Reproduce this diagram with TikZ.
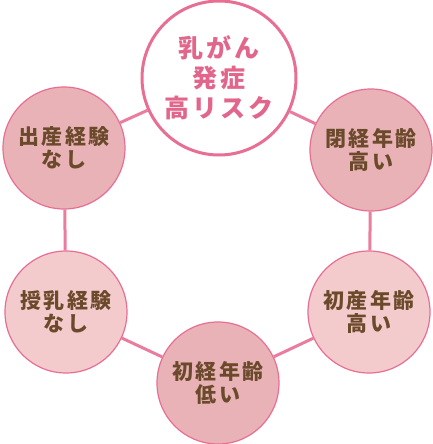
\documentclass[tikz,border=0pt]{standalone}
\usepackage{fontspec}
\usepackage{tikz}
\usetikzlibrary{positioning, calc}
\newfontfamily\jpfont[LetterSpace=12]{Noto Sans CJK JP}
\definecolor{rosedark}{HTML}{E86F93}
\definecolor{rosefill}{HTML}{E9B2B6}
\definecolor{roselight}{HTML}{F3CBCC}
\definecolor{cocoa}{HTML}{6B4A2C}
\definecolor{rosetext}{HTML}{E2658B}
\tikzset{
  risk/.style={circle, draw=rosedark, line width=1.2pt, fill=#1, minimum size=122pt, inner sep=0pt,
               align=center, font=\jpfont\bfseries\fontsize{21}{23.5}\selectfont, text=cocoa},
  risk/.default=rosefill,
  hub/.style={circle, draw=rosedark, line width=3pt, fill=white, minimum size=154pt, inner sep=0pt,
              align=center, font=\jpfont\bfseries\fontsize{25}{30}\selectfont, text=rosetext},
  link/.style={line width=3pt, color=rosedark!90},
}
\begin{document}
\begin{tikzpicture}[x=1pt, y=-1pt]
  \useasboundingbox (0,0) rectangle (433,444);
  \node[hub] (c) at (219,78) {乳がん\\発症\\高リスク};
  \node[risk] (r0) at (64,148) {出産経験\\なし};
  \node[risk] (r1) at (371,150) {閉経年齢\\高い};
  \node[risk=roselight] (r2) at (66,312) {授乳経験\\なし};
  \node[risk=roselight] (r3) at (369,312) {初産年齢\\高い};
  \node[risk] (r4) at (218,383) {初経年齢\\低い};
  \foreach \a/\b in {c/r0, c/r1, r0/r2, r1/r3, r2/r4, r3/r4} { \draw[link] (\a) -- (\b); }
\end{tikzpicture}
\end{document}
